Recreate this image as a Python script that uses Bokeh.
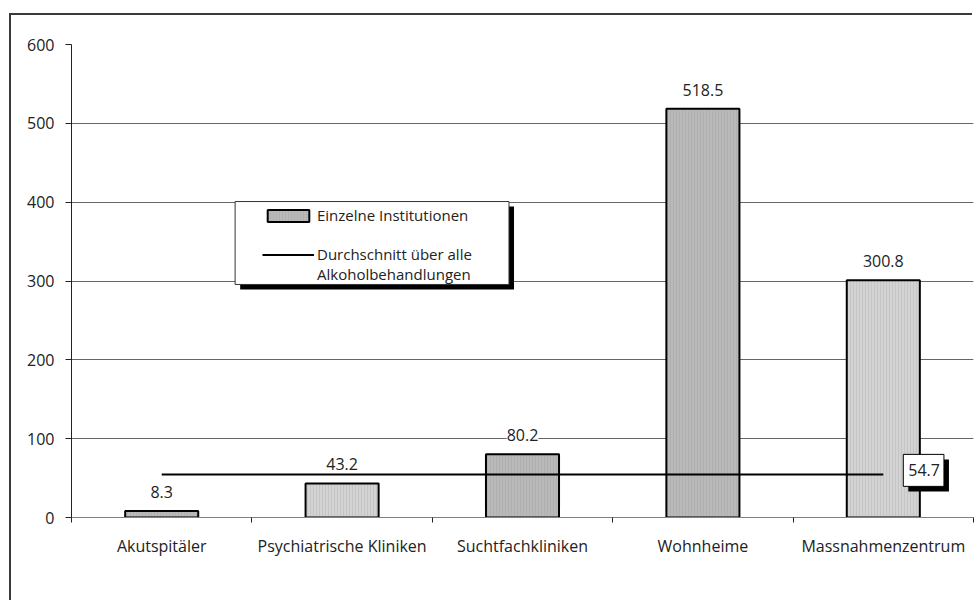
from bokeh.plotting import figure
from bokeh.models import (FixedTicker, BoxAnnotation, Legend, LegendItem,
                          ColumnDataSource, Range1d)
from bokeh.core.properties import value
from bokeh.embed import file_html
from bokeh.resources import INLINE

# ---- data -------------------------------------------------------------
categories = ["Akutspitäler", "Psychiatrische Kliniken", "Suchtfachkliniken",
              "Wohnheime", "Massnahmenzentrum"]
values = [8.3, 43.2, 80.2, 518.5, 300.8]
average_value = 54.7
y_ticks = [0, 100, 200, 300, 400, 500, 600]
legend_labels = ["Einzelne Institutionen", "Durchschnitt über alle",
                 "Alkoholbehandlungen"]

# ---- styles -----------------------------------------------------------
bar_fills = ["#b9b9b9", "#d3d3d3", "#b9b9b9", "#b9b9b9", "#d3d3d3"]
FONT = "Open Sans"
FS = "16px"
TXT = "#222222"

positions = [i + 0.5 for i in range(len(categories))]
boundaries = list(range(len(categories) + 1))

p = figure(width=963, height=587,
           x_range=Range1d(0, len(categories)),
           y_range=Range1d(y_ticks[0], y_ticks[-1]),
           output_backend="svg", toolbar_location=None,
           min_border_left=60, min_border_right=1,
           min_border_top=29, min_border_bottom=85)
p.styles = {"position": "relative", "left": "11px", "top": "15px",
            "box-shadow": "-2px -2px 0 0 #3a3a3a"}
p.outline_line_color = None
p.background_fill_color = "white"
p.border_fill_color = "white"

# axes
p.xaxis.ticker = FixedTicker(ticks=positions, minor_ticks=boundaries)
p.xaxis.major_label_overrides = {pos: cat for pos, cat in zip(positions, categories)}
p.xaxis.major_tick_line_color = None
p.xaxis.major_tick_out = 0
p.xaxis.major_tick_in = 0
p.xaxis.minor_tick_out = 5
p.xaxis.minor_tick_in = 0
p.xaxis.minor_tick_line_color = "#222222"
p.xaxis.axis_line_color = "#808080"
p.xaxis.major_label_standoff = 12

p.yaxis.ticker = FixedTicker(ticks=y_ticks, minor_ticks=[])
p.yaxis.major_tick_out = 6
p.yaxis.major_tick_in = 0
p.yaxis.major_tick_line_color = "#222222"
p.yaxis.axis_line_color = "#222222"
p.yaxis.major_label_standoff = 11

for ax in (p.xaxis, p.yaxis):
    ax.major_label_text_font = FONT
    ax.major_label_text_font_size = FS
    ax.major_label_text_color = TXT

p.xgrid.grid_line_color = None
p.ygrid.grid_line_color = "#666666"
p.ygrid.grid_line_width = 1

# bars
src = ColumnDataSource(dict(x=positions, top=values, fill=bar_fills,
                            label=[f"{v:.1f}" for v in values]))
bars = p.vbar(x="x", top="top", width=0.405, source=src,
              fill_color="fill", line_color="black", line_width=2,
              hatch_pattern="vertical_line", hatch_scale=3, hatch_weight=1,
              hatch_color="#8a8a8a", hatch_alpha=0.2)

p.text(x="x", y="top", text="label", source=src,
       text_font=value(FONT), text_font_size=FS, text_color=TXT,
       text_align="center", text_baseline="alphabetic", y_offset=-19,
       background_fill_color="white")

# average line
avg_line = p.line(x=[positions[0], positions[-1]], y=[average_value, average_value],
                  line_color="black", line_width=2)

avg_src = ColumnDataSource(dict(x=[positions[-1]], y=[average_value],
                                t=[f"{average_value:.1f}"]))
pad = dict(left=5, right=4, top=10, bottom=10)
p.text(x="x", y="y", text="t", source=avg_src,
       text_font=value(FONT), text_font_size=FS, text_color="black",
       text_align="left", text_baseline="middle", x_offset=25, y_offset=1,
       background_fill_color="black", padding=pad)
p.text(x="x", y="y", text="t", source=avg_src,
       text_font=value(FONT), text_font_size=FS, text_color=TXT,
       text_align="left", text_baseline="middle", x_offset=20, y_offset=-4,
       background_fill_color="white", border_line_color="black",
       border_line_width=1, padding=pad)

# legend box with shadow
p.add_layout(BoxAnnotation(left=0.935, right=2.453, bottom=289.3, top=394.5,
                           fill_color="black", fill_alpha=1, line_color=None))
p.add_layout(BoxAnnotation(left=0.907, right=2.425, bottom=295.6, top=400.8,
                           fill_color="white", fill_alpha=1,
                           line_color="#333333", line_width=1, line_alpha=1))

blank1 = p.line(x=[], y=[], line_alpha=0)
blank2 = p.line(x=[], y=[], line_alpha=0)
legend = Legend(items=[LegendItem(label=legend_labels[0], renderers=[bars]),
                       LegendItem(label=" ", renderers=[blank1]),
                       LegendItem(label=legend_labels[1], renderers=[avg_line]),
                       LegendItem(label=legend_labels[2], renderers=[blank2])],
                location=(191, 233), orientation="vertical",
                padding=0, spacing=0, margin=0,
                glyph_width=52, glyph_height=15, label_height=19,
                label_standoff=3,
                label_text_font=FONT, label_text_font_size="15px",
                label_text_color=TXT,
                border_line_alpha=0, background_fill_alpha=0)
p.add_layout(legend)

open("out.html", "w").write(file_html(p, INLINE))
